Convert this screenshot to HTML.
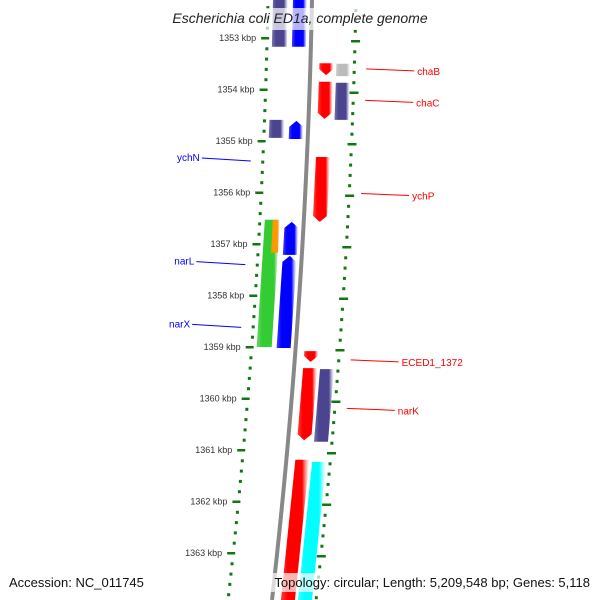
<!DOCTYPE html>
<html><head><meta charset="utf-8"><style>
html,body{margin:0;padding:0;background:#fff;}
svg{display:block;}
text{font-family:"Liberation Sans","DejaVu Sans",sans-serif;}
</style></head><body>
<svg id="c" width="600" height="600" viewBox="0 0 600 600" xmlns="http://www.w3.org/2000/svg">
<defs>
<linearGradient id="gAxis" x1="0" x2="1" y1="0" y2="0"><stop offset="0" stop-color="#666"/><stop offset="0.5" stop-color="#bbb"/><stop offset="1" stop-color="#777"/></linearGradient>
</defs>
<g id="ticks"></g>
<g id="genes"></g>
<g id="labels"></g>
<rect x="150" y="8" width="300" height="22" fill="#fff" fill-opacity="0.7"/>
<text x="300" y="23" text-anchor="middle" font-size="14" font-style="italic" fill="#222">Escherichia coli ED1a, complete genome</text>
<text x="9" y="587" font-size="13" fill="#111">Accession: NC_011745</text>
<rect x="255" y="573" width="340" height="19" fill="#fff" fill-opacity="0.7"/>
<text x="590" y="587" text-anchor="end" font-size="13" fill="#111">Topology: circular; Length: 5,209,548 bp; Genes: 5,118</text>
</svg>
<script>
const kbpTicks = [1353,1354,1355,1356,1357,1358,1359,1360,1361,1362,1363];
const geneStart = [1352.2,1352.2,1353.49,1353.50,1353.85,1353.87,1354.59,1354.61,1355.31,1356.53,1356.53,1356.57,1357.23,1359.08,1359.41,1359.43,1361.19,1361.23];
const geneEnd   = [1353.17,1353.17,1353.72,1353.74,1354.57,1354.59,1354.94,1354.96,1356.57,1359.0,1357.17,1357.21,1359.02,1359.29,1360.81,1360.84,1364.2,1364.2];
const geneLane  = ["L1","L2","R1","R2","R1","R2","L1","L2","R1","L1","L1o","L2","L2","R1","R1","R2","R1","R2"];
const geneColor = ["#4b4590","#0000ff","#ff0000","#bbbbbb","#ff0000","#4b4590","#4b4590","#0000ff","#ff0000","#33cc33","#ff9900","#0000ff","#0000ff","#ff0000","#ff0000","#4b4590","#ff0000","#00ffff"];
const geneArrow = ["none","none","down","none","down","none","none","up","down","none","none","up","up","down","down","none","none","none"];
const labelText = ["chaB","chaC","ychP","ECED1_1372","narK","ychN","narL","narX"];
const labelKbp  = [1353.62,1354.23,1356.04,1359.27,1360.21,1355.37,1357.38,1358.6];
const labelSide = ["R","R","R","R","R","L","L","L"];

const NS="http://www.w3.org/2000/svg";
function yOf(k){return 38+(k-1353)*51.5;}
function dx(y){return -0.02*y-0.0000778*y*y;}
const lanes={L1:[273,288],L1o:[281,288],L2:[293,307],R1:[321,335],R2:[338,352]};
function mk(tag,attrs,parent){const e=document.createElementNS(NS,tag);for(const k in attrs)e.setAttribute(k,attrs[k]);parent.appendChild(e);return e;}
const svg=document.getElementById('c');
const defs=svg.querySelector('defs');
const tg=document.getElementById('ticks');
const gg=document.getElementById('genes');
const lg=document.getElementById('labels');

// axis (curved)
let pts=[];for(let y=0;y<=600;y+=10)pts.push((312+dx(y))+","+y);
const ax=mk('polyline',{points:pts.join(' '),fill:'none',stroke:'#888','stroke-width':4},tg);


// dotted scale lines
for(let k=1352.2;k<=1364.2;k+=0.2){
  const y=yOf(k); if(y<0||y>600)continue;
  const isMaj=Math.abs(k-Math.round(k))<0.01;
  const xl=268+dx(y);
  const d=mk('rect',{x:isMaj?xl-6:xl-1.5,y:y-1,width:isMaj?8:3,height:isMaj?2.5:3,fill:'#117711'},tg);
  
  
  const y2=y+3,xr=356+dx(y2);
  const d2=mk('rect',{x:isMaj?xr-4:xr-1.5,y:y2-1,width:isMaj?9:3,height:isMaj?2.5:3,fill:'#117711'},tg);
  
  
}
kbpTicks.forEach(k=>{
  const y=yOf(k);
  const t=mk('text',{x:268+dx(y)-11,y:y+3,'text-anchor':'end','font-size':9,fill:'#333'},tg);
  t.textContent=k+" kbp";
  
  
});
// genes
geneStart.forEach((s,i)=>{
  const y0=Math.max(yOf(s),-5),y1=Math.min(yOf(geneEnd[i]),605);
  const [a,b]=lanes[geneLane[i]];
  const gid='gr'+i;
  const lgd=mk('linearGradient',{id:gid,x1:0,x2:1,y1:0,y2:0},defs);
  mk('stop',{offset:0,'stop-color':geneColor[i],'stop-opacity':0.75},lgd);
  mk('stop',{offset:0.25,'stop-color':geneColor[i]},lgd);
  mk('stop',{offset:0.75,'stop-color':geneColor[i]},lgd);
  mk('stop',{offset:1,'stop-color':'#fff','stop-opacity':0.6},lgd);
  const X=(base,y)=>base+dx(y);
  let p;const h=6;
  if(geneArrow[i]==='down'){
    const ym=Math.max(y0,y1-h);
    p=[[X(a,y0),y0],[X(b,y0),y0],[X(b,ym),ym],[X((a+b)/2,y1),y1],[X(a,ym),ym]];
  }else if(geneArrow[i]==='up'){
    const ym=Math.min(y1,y0+h);
    p=[[X((a+b)/2,y0),y0],[X(b,ym),ym],[X(b,y1),y1],[X(a,y1),y1],[X(a,ym),ym]];
  }else{
    p=[[X(a,y0),y0],[X(b,y0),y0],[X(b,y1),y1],[X(a,y1),y1]];
  }
  const g=mk('polygon',{points:p.map(q=>q.join(',')).join(' '),fill:'url(#'+gid+')'},gg);
  
  
});
// labels
labelText.forEach((t,i)=>{
  const y=yOf(labelKbp[i]);
  if(labelSide[i]==='R'){
    const x0=358+dx(y)+10;
    const l=mk('line',{x1:x0,y1:y-1,x2:x0+48,y2:y+1,stroke:'#f00','stroke-width':1},lg);
    
    
    const tx=mk('text',{x:x0+51,y:y+5,'font-size':10,fill:'#f00'},lg);
    tx.textContent=t;
    
    
  }else{
    const x1=268+dx(y)-12;
    const l=mk('line',{x1:x1-49,y1:y-2,x2:x1,y2:y+1,stroke:'#00f','stroke-width':1},lg);
    
    
    const tx=mk('text',{x:x1-51,y:y+1,'text-anchor':'end','font-size':10,fill:'#00f'},lg);
    tx.textContent=t;
    
    
  }
});
</script>
</body></html>
